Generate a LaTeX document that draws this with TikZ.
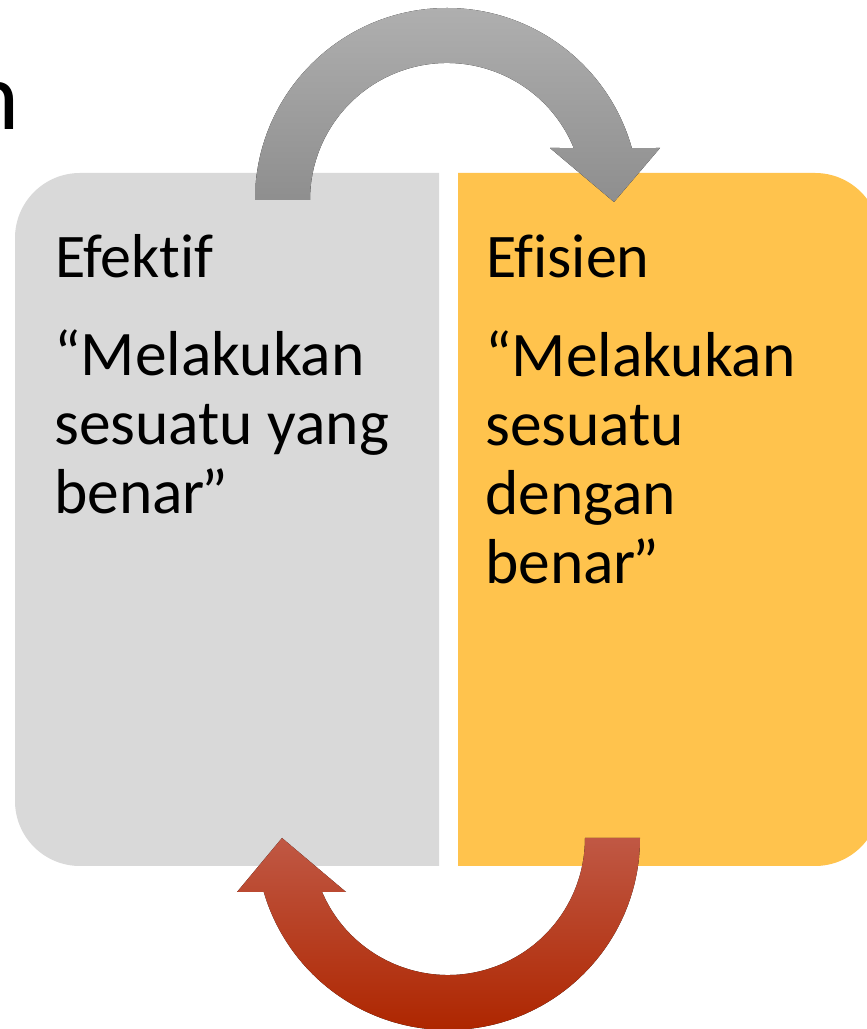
\documentclass[tikz,border=0pt]{standalone}
\usepackage{fontspec}
\setmainfont{Carlito}[Ligatures=NoCommon]
\usepackage{xcolor}
\usepackage{tikz}
\usetikzlibrary{calc,positioning}
\definecolor{boxGray}{RGB}{217,217,217}
\definecolor{boxGold}{RGB}{255,195,77}
\definecolor{arrGrayTop}{RGB}{175,175,175}
\definecolor{arrGrayBot}{RGB}{142,142,142}
\definecolor{arrRedTop}{RGB}{192,88,68}
\definecolor{arrRedMid}{RGB}{183,46,0}
\definecolor{arrRedBot}{RGB}{174,38,0}
\tikzset{
  head/.style={anchor=base west, inner sep=0pt, font=\fontsize{62}{69}\selectfont},
  body/.style={anchor=north west, inner sep=0pt, align=left, font=\fontsize{63.5}{69}\selectfont},
  grayArrow/.style={top color=arrGrayTop, bottom color=arrGrayBot},
  redArrow/.style={top color=arrRedTop, middle color=arrRedMid, bottom color=arrRedBot}
}

\begin{document}
\begin{tikzpicture}[x=1pt,y=1pt]
\fill[white] (0,0) rectangle (867,1029);
\useasboundingbox (0,0) rectangle (867,1029);

\node[anchor=base east, inner sep=0pt, font=\fontsize{97}{110}\selectfont] (ttl) at (19.5,899) {n};

\fill[boxGray] (439,856) -- (80,856) arc (90:180:65) -- (15,228) arc (180:270:65) -- (439,163) -- cycle;
\fill[boxGold] (458,856) -- (815,856) arc (90:0:65) -- (880,228) arc (0:-90:65) -- (458,163) -- cycle;

\coordinate (topc) at (447,829);
\coordinate (botc) at (448,191);
\fill[grayArrow] ($(topc)+(180:192)$) arc (180:15.7:192) -- (660,881) -- (614,827) -- (550,881)
  -- ($(topc)+(22.3:137)$) arc (22.3:180:137) -- cycle;
\fill[redArrow] ($(botc)+(0:192)$) arc (0:-163.7:192) -- (237,137) -- (282,191) -- (346,137)
  -- ($(botc)+(-156.8:137)$) arc (-156.8:0:137) -- cycle;

\node[head] (hdEfektif) at (55,751) {Efektif};
\node[body] (txEfektif) at (54,699) {“Melakukan\\sesuatu yang\\benar\kern-4pt”};
\node[head] (hdEfisien) at (486,751) {Efisien};
\node[body] (txEfisien) at (485,698) {“Melakukan\\sesuatu\\dengan\\benar\kern-4pt”};
\end{tikzpicture}
\end{document}
